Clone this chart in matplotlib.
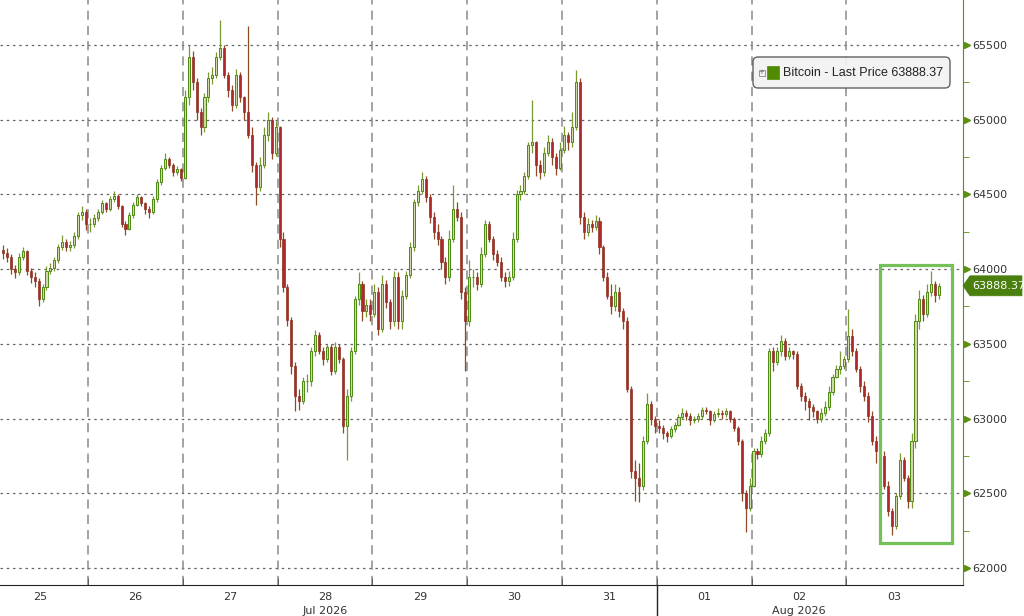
import numpy as np
import matplotlib.pyplot as plt
import matplotlib.transforms as mtransforms
from matplotlib.patches import Rectangle, FancyBboxPatch, Polygon

# day labels on the x axis (Jul 25 .. Aug 03, 2026)
days = ['25', '26', '27', '28', '29', '30', '31', '01', '02', '03']
month_labels = {'28': 'Jul 2026', '02': 'Aug 2026'}
month_start = '01'
y_ticks = [62000, 62500, 63000, 63500, 64000, 64500, 65000, 65500]
last_price = 63888.37
highlight = {'start_day': 9.354, 'end_day': 10.114, 'low': 62167, 'high': 64028}

# hourly candles, first one starts at 02:00 on the 25th
first_hour = 2
first_open = 64130

close_25 = [64110, 64080, 64000, 63980, 64080, 64120, 63990, 63950, 63920, 63800, 63880,
            63990, 64010, 64060, 64150, 64180, 64150, 64160, 64220, 64360, 64380, 64300]
high_25 = [64160, 64140, 64100, 64030, 64110, 64150, 64130, 64010, 63980, 63940, 63900,
           64020, 64040, 64080, 64170, 64230, 64200, 64190, 64250, 64380, 64420, 64400]
low_25 = [64070, 64050, 63970, 63940, 63960, 64060, 63960, 63910, 63880, 63750, 63780,
          63860, 63970, 63990, 64040, 64130, 64120, 64120, 64140, 64200, 64330, 64260]

close_26 = [64300, 64340, 64380, 64440, 64400, 64470, 64490, 64420, 64300, 64270, 64360, 64430,
            64480, 64440, 64400, 64380, 64470, 64580, 64680, 64740, 64700, 64650, 64670, 64610]
high_26 = [64340, 64370, 64400, 64460, 64450, 64490, 64520, 64500, 64430, 64320, 64380, 64450,
           64500, 64490, 64450, 64420, 64490, 64600, 64700, 64780, 64750, 64710, 64690, 64680]
low_26 = [64250, 64280, 64320, 64370, 64380, 64390, 64450, 64400, 64280, 64230, 64260, 64340,
          64420, 64420, 64370, 64340, 64370, 64450, 64560, 64660, 64680, 64620, 64630, 64590]

close_27 = [65150, 65420, 65250, 65050, 64950, 65150, 65280, 65300, 65420, 65480, 65300, 65200,
            65100, 65300, 65150, 65050, 64900, 64700, 64550, 64700, 64900, 65000, 64780, 64950]
high_27 = [65200, 65500, 65460, 65280, 65080, 65180, 65320, 65350, 65450, 65670, 65500, 65320,
           65230, 65340, 65320, 65160, 65630, 64950, 64720, 64750, 64950, 65050, 65020, 64990]
low_27 = [64600, 65100, 65200, 65000, 64900, 64920, 65120, 65240, 65280, 65400, 65280, 65150,
          65060, 65080, 65120, 65000, 64880, 64650, 64430, 64520, 64680, 64860, 64740, 64760]

close_28 = [64200, 63880, 63660, 63350, 63150, 63120, 63250, 63250, 63450, 63560, 63450, 63400,
            63480, 63320, 63480, 63400, 62950, 63150, 63450, 63800, 63900, 63720, 63760, 63700]
high_28 = [64960, 64250, 63900, 63680, 63380, 63200, 63280, 63300, 63480, 63590, 63580, 63480,
           63500, 63500, 63510, 63500, 63410, 63200, 63480, 63820, 63980, 63920, 63800, 63800]
low_28 = [64150, 63850, 63620, 63300, 63050, 63060, 63100, 63180, 63220, 63420, 63430, 63360,
          63380, 63290, 63300, 63370, 62900, 62720, 63120, 63430, 63760, 63650, 63680, 63650]

close_29 = [63850, 63600, 63900, 63780, 63650, 63950, 63650, 63820, 63960, 64150, 64450, 64520,
            64600, 64480, 64350, 64250, 64200, 64050, 63950, 64200, 64400, 64350, 63850, 63650]
high_29 = [63900, 63880, 63960, 63930, 63800, 63990, 63980, 63860, 63990, 64180, 64470, 64560,
           64650, 64620, 64500, 64380, 64300, 64220, 64080, 64260, 64560, 64450, 64380, 63880]
low_29 = [63680, 63560, 63580, 63740, 63600, 63620, 63600, 63600, 63800, 63940, 64120, 64420,
          64500, 64450, 64310, 64200, 64160, 64000, 63900, 63920, 64180, 64320, 63800, 63320]

close_30 = [63950, 63950, 63900, 64100, 64300, 64200, 64100, 64050, 63950, 63920, 63950, 64200,
            64500, 64520, 64620, 64830, 64850, 64700, 64650, 64780, 64850, 64750, 64680, 64800]
high_30 = [64060, 64000, 63980, 64150, 64330, 64320, 64220, 64130, 64080, 63980, 63990, 64250,
           64530, 64560, 64650, 64850, 65130, 64860, 64730, 64820, 64900, 64880, 64780, 64850]
low_30 = [63620, 63880, 63860, 63880, 64080, 64180, 64060, 64020, 63920, 63880, 63890, 63930,
          64180, 64460, 64500, 64600, 64780, 64620, 64600, 64620, 64760, 64700, 64630, 64660]

close_31 = [64900, 64850, 64950, 65250, 64350, 64250, 64300, 64280, 64320, 64150, 63950, 63820,
            63750, 63850, 63720, 63650, 63200, 62650, 62600, 62550, 62850, 63100, 63000, 62950]
high_31 = [64960, 64920, 65050, 65330, 65280, 64380, 64340, 64330, 64360, 64350, 64160, 63980,
           63900, 63900, 63880, 63740, 63680, 63220, 62720, 62700, 62880, 63170, 63120, 63020]
low_31 = [64780, 64800, 64820, 64930, 64300, 64200, 64220, 64250, 64260, 64100, 63920, 63800,
          63700, 63720, 63680, 63600, 63180, 62600, 62450, 62440, 62520, 62830, 62960, 62900]

close_01 = [62940, 62900, 62880, 62930, 62960, 63010, 63040, 63020, 62990, 63000, 63020, 63060,
            63050, 62990, 63030, 63040, 63030, 63050, 63000, 62940, 62850, 62500, 62400, 62550]
high_01 = [62990, 62960, 62920, 62950, 62980, 63030, 63070, 63060, 63040, 63020, 63040, 63080,
           63080, 63060, 63050, 63070, 63060, 63070, 63060, 63010, 62950, 62860, 62520, 62600]
low_01 = [62900, 62860, 62840, 62870, 62910, 62950, 63000, 62990, 62960, 62970, 62980, 63000,
          63030, 62960, 62980, 63010, 63000, 63010, 62980, 62920, 62820, 62450, 62240, 62380]

close_02 = [62780, 62760, 62850, 62900, 63450, 63380, 63450, 63520, 63420, 63450, 63430, 63220,
            63150, 63120, 63080, 63050, 63000, 63040, 63080, 63180, 63280, 63330, 63350, 63400]
high_02 = [62800, 62800, 62880, 62930, 63470, 63480, 63480, 63560, 63540, 63480, 63460, 63450,
           63240, 63180, 63140, 63100, 63060, 63070, 63120, 63220, 63300, 63360, 63450, 63420]
low_02 = [62540, 62730, 62740, 62830, 62880, 63320, 63360, 63420, 63390, 63400, 63400, 63200,
          63120, 63060, 62990, 63010, 62970, 62980, 63020, 63060, 63160, 63270, 63300, 63330]

close_03 = [63550, 63450, 63330, 63220, 63150, 63020, 62850, 62780, 62750, 62550, 62380, 62280,
            62480, 62720, 62600, 62450, 62850, 63650, 63800, 63700, 63850, 63900, 63830, 63888.37]
high_03 = [63730, 63600, 63470, 63350, 63250, 63180, 63050, 62880, 62800, 62780, 62580, 62400,
           62500, 62770, 62740, 62620, 62900, 63700, 63860, 63830, 63900, 63990, 63920, 63910]
low_03 = [63380, 63420, 63310, 63180, 63120, 62980, 62820, 62700, 62720, 62530, 62350, 62220,
          62260, 62460, 62580, 62400, 62400, 62800, 63600, 63650, 63680, 63820, 63780, 63800]

closes = np.array(close_25 + close_26 + close_27 + close_28 + close_29 +
                  close_30 + close_31 + close_01 + close_02 + close_03)
highs = np.array(high_25 + high_26 + high_27 + high_28 + high_29 +
                 high_30 + high_31 + high_01 + high_02 + high_03)
lows = np.array(low_25 + low_26 + low_27 + low_28 + low_29 +
                low_30 + low_31 + low_01 + low_02 + low_03)
opens = np.concatenate([[first_open], closes[:-1]])
# x in days since Jul 25 00:00, candle centred in its hour
t = (first_hour + np.arange(len(closes)) + 0.5) / 24.0

up = closes >= opens
dn = ~up

green = '#4d8a12'
red = '#b0282c'

fig = plt.figure(figsize=(10.24, 6.16), dpi=100)
ax = fig.add_axes([0, 0.0503, 0.9404, 0.9497])
ax.set_xlim(0.072, 10.23)
ax.set_ylim(61886, 65801)

# grid
for yv in y_ticks:
    ax.axhline(yv, color='#666666', lw=0.9, ls=(0, (2, 3)), zorder=1)
for d in range(1, len(days)):
    ax.axvline(d, color='#8a8a8a', lw=1.1, ls=(0, (6, 4)), zorder=1)

# candles
ax.vlines(t[up], lows[up], highs[up], color='#7a9a30', lw=0.9, zorder=2)
ax.vlines(t[dn], lows[dn], highs[dn], color='#8f4a25', lw=0.9, zorder=2)
ax.bar(t[up], closes[up] - opens[up], bottom=opens[up], width=0.022,
       color='#cfd9a8', edgecolor=green, linewidth=0.7, zorder=3)
ax.bar(t[dn], opens[dn] - closes[dn], bottom=closes[dn], width=0.022,
       color=red, edgecolor='#8c3322', linewidth=0.5, zorder=3)

# highlight box
ax.add_patch(Rectangle((highlight['start_day'], highlight['low']),
                       highlight['end_day'] - highlight['start_day'],
                       highlight['high'] - highlight['low'],
                       fill=False, ec='#74c15a', lw=2.3, zorder=4))

# spines
for s in ['top', 'left']:
    ax.spines[s].set_visible(False)
ax.spines['right'].set_color('#5a8f10')
ax.spines['bottom'].set_color('#222222')

# y axis on the right
ax.yaxis.tick_right()
ax.set_yticks(y_ticks)
ax.set_yticklabels([str(v) for v in y_ticks], fontsize=8, color='#333333')
ax.tick_params(axis='y', length=0, pad=7)
ax.set_yticks([v + 250 for v in y_ticks[:-1]], minor=True)
ax.tick_params(axis='y', which='minor', length=4, color='#5a8f10', direction='out')
ytrans = mtransforms.blended_transform_factory(ax.transAxes, ax.transData)
ax.plot([1.004] * len(y_ticks), y_ticks, marker='>', ls='none', ms=5,
        color='#5a8f10', transform=ytrans, clip_on=False)

# x axis: day labels centred in each day
ax.set_xticks([i + 0.5 for i in range(len(days))])
ax.set_xticklabels(days, fontsize=8, color='#333333')
ax.tick_params(axis='x', length=0, pad=5)
ax.set_xticks(range(1, len(days)), minor=True)
ax.tick_params(axis='x', which='minor', length=5, direction='in', color='#555555')
xtrans = mtransforms.blended_transform_factory(ax.transData, ax.transAxes)
for d, lab in month_labels.items():
    ax.text(days.index(d) + 0.5, -0.036, lab, transform=xtrans, ha='center', va='top',
            fontsize=8, color='#333333')
ms = days.index(month_start)
ax.plot([ms, ms], [0, -0.06], color='#222222', lw=1, transform=xtrans, clip_on=False)

# last price tag (arrow-shaped label pointing at the axis)
fig.canvas.draw()
px, py = ax.transData.transform((0, last_price))
x0 = ax.transAxes.transform((1.0, 0))[0]
tag = np.array([[x0, py], [x0 + 7, py + 10], [x0 + 59, py + 10],
                [x0 + 59, py - 10], [x0 + 7, py - 10]])
fig.add_artist(Polygon(tag, closed=True, transform=None, fc='#4a7f0e', ec='#4a7f0e', lw=0.5))
fig.text((x0 + 9) / fig.bbox.width, py / fig.bbox.height, f'{last_price:.2f}',
         ha='left', va='center', fontsize=8, color='white')

# legend box
leg = FancyBboxPatch((7.53, 5.28), 1.97, 0.31, boxstyle='round,pad=0,rounding_size=0.05',
                     transform=fig.dpi_scale_trans, fc='#f3f3f3', ec='#555555', lw=1, alpha=0.92)
fig.add_artist(leg)
fig.add_artist(Rectangle((7.585, 5.405), 0.06, 0.06, transform=fig.dpi_scale_trans,
                         fc='#f3f3f3', ec='#888888', lw=0.6))
fig.text(7.615 / 10.24, 5.435 / 6.16, '+', ha='center', va='center', fontsize=5, color='#666666')
fig.add_artist(Rectangle((7.67, 5.375), 0.12, 0.12, transform=fig.dpi_scale_trans,
                         fc='#4f8a00', ec='#4f8a00', lw=0.5))
fig.text(7.83 / 10.24, 5.435 / 6.16, f'Bitcoin - Last Price {last_price:.2f}',
         ha='left', va='center', fontsize=9, color='#222222', family='Liberation Sans')

fig.savefig('out.png', dpi=100)
